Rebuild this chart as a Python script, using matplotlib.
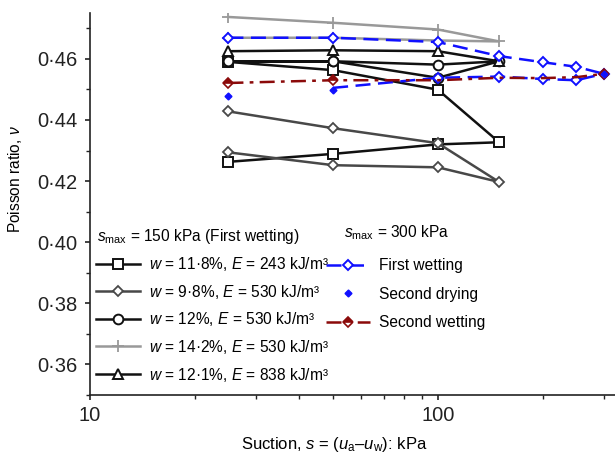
import matplotlib
matplotlib.use("Agg")
import matplotlib.pyplot as plt
from matplotlib.ticker import FixedLocator, LogLocator, NullFormatter, FuncFormatter, MultipleLocator

plt.rcParams['font.family'] = ['Liberation Sans', 'DejaVu Sans']
plt.rcParams['mathtext.fontset'] = 'custom'
plt.rcParams['mathtext.rm'] = 'Liberation Sans'
plt.rcParams['mathtext.it'] = 'Liberation Sans:italic'
plt.rcParams['mathtext.bf'] = 'Liberation Sans:bold'

# ---------------- data ----------------
# s_max = 150 kPa series: drying branch 25->150 then wetting branch 150->25
s_150 = [25, 50, 100, 150, 100, 50, 25]
v_w118_E243 = [0.4263, 0.4289, 0.4320, 0.4327, 0.4499, 0.4563, 0.4590]
v_w98_E530 = [0.4294, 0.4252, 0.4245, 0.4197, 0.4324, 0.4373, 0.4428]
v_w12_E530 = [0.4592, 0.4592, 0.4538, 0.4592, 0.4581, 0.4592, 0.4592]
v_w142_E530 = [0.4669, 0.4669, 0.4660, 0.4657, 0.4696, 0.4718, 0.4737]
s_w121 = [25, 50, 100, 150]
v_w121_E838 = [0.4625, 0.4628, 0.4625, 0.4592]

# s_max = 300 kPa series
s_300 = [25, 50, 100, 150, 200, 250, 300]
v_first_wetting = [0.4669, 0.4669, 0.4655, 0.4609, 0.4589, 0.4574, 0.4551]
v_second_wetting = [0.4521, 0.4530, 0.4530, 0.4538, 0.4537, 0.4540, 0.4551]
s_second_drying = [25, 50, 300]
v_second_drying = [0.4479, 0.4499, 0.4551]
s_lower_dashed = [50, 100, 150, 200, 250, 300]
v_lower_dashed = [0.4505, 0.4538, 0.4542, 0.4534, 0.4530, 0.4551]

labels_150 = [
    r"$\mathit{w}$ = 11·8%, $\mathit{E}$ = 243 kJ/m³",
    r"$\mathit{w}$ = 9·8%, $\mathit{E}$ = 530 kJ/m³",
    r"$\mathit{w}$ = 12%, $\mathit{E}$ = 530 kJ/m³",
    r"$\mathit{w}$ = 14·2%, $\mathit{E}$ = 530 kJ/m³",
    r"$\mathit{w}$ = 12·1%, $\mathit{E}$ = 838 kJ/m³",
]
labels_300 = ["First wetting", "Second drying", "Second wetting"]
x_ticks = [10, 100]
y_ticks = [0.36, 0.38, 0.40, 0.42, 0.44, 0.46]

# ---------------- figure ----------------
W, H = 615, 454
fig = plt.figure(figsize=(W / 100, H / 100), dpi=100)
ax = fig.add_axes([90 / W, 1 - 395 / H, 525 / W, (395 - 13) / H])

FS = 11.2
TFS = 14.5
BLUE = '#1010ff'
RED = '#8b0a0a'

sq = ax.plot(s_150, v_w118_E243, color='#111111', lw=1.8, marker='s', ms=6.5,
             mfc='white', mec='#111111', mew=1.4, label=labels_150[0], zorder=3)[0]
di = ax.plot(s_150, v_w98_E530, color='#484848', lw=1.8, marker='D', ms=5.2,
             mfc='white', mec='#484848', mew=1.3, label=labels_150[1], zorder=3)[0]
ci = ax.plot(s_150, v_w12_E530, color='#111111', lw=1.8, marker='o', ms=7,
             mfc='white', mec='#111111', mew=1.4, label=labels_150[2], zorder=3)[0]
pl = ax.plot(s_150, v_w142_E530, color='#999999', lw=1.8, marker='+', ms=8,
             mec='#999999', mew=1.3, label=labels_150[3], zorder=3)[0]
tr = ax.plot(s_w121, v_w121_E838, color='#111111', lw=1.8, marker='^', ms=7.5,
             mfc='white', mec='#111111', mew=1.4, label=labels_150[4], zorder=3)[0]

fw = ax.plot(s_300, v_first_wetting, color=BLUE, lw=1.8, ls=(0, (6, 3)), marker='D',
             ms=5.5, mfc='white', mec=BLUE, mew=1.4, label=labels_300[0], zorder=4)[0]
ax.plot(s_lower_dashed, v_lower_dashed, color=BLUE, lw=1.8, ls=(0, (6, 3)), marker='D',
        ms=5.5, mfc='white', mec=BLUE, mew=1.4, markevery=[1, 2, 3, 4], zorder=4)
sw = ax.plot(s_300, v_second_wetting, color=RED, lw=1.8, ls=(0, (6, 2.5, 1.5, 2.5)),
             marker='D', ms=5.5, fillstyle='top', mfc=RED, mfcalt='white', mec=RED,
             mew=1.2, markevery=[0, 1, 6], label=labels_300[2], zorder=4)[0]
sd = ax.plot(s_second_drying, v_second_drying, ls='none', marker='D', ms=3.5,
             color=BLUE, label=labels_300[1], zorder=5)[0]

ax.set_xscale('log')
ax.set_xlim(10, 323)
ax.set_ylim(0.35, 0.475)
ax.xaxis.set_major_locator(FixedLocator(x_ticks))
ax.xaxis.set_major_formatter(FuncFormatter(lambda v, p: f"{v:g}"))
ax.xaxis.set_minor_locator(LogLocator(base=10, subs=range(2, 10)))
ax.xaxis.set_minor_formatter(NullFormatter())
ax.yaxis.set_major_locator(FixedLocator(y_ticks))
ax.yaxis.set_minor_locator(MultipleLocator(0.01))
ax.yaxis.set_major_formatter(FuncFormatter(lambda v, p: f"{v:.2f}".replace('.', '·')))

for s in ('top', 'right'):
    ax.spines[s].set_visible(False)
for s in ('left', 'bottom'):
    ax.spines[s].set_linewidth(1.2)
    ax.spines[s].set_color('#222222')
ax.tick_params(which='major', direction='out', length=3.8, width=1.2, labelsize=TFS,
               colors='#222222')
ax.tick_params(axis='y', which='major', pad=5.5)
ax.tick_params(axis='x', which='major', pad=4)
ax.tick_params(which='minor', direction='out', length=3.2, width=1.0, colors='#222222')

ax.set_ylabel(r"Poisson ratio, $\mathit{ν}$", fontsize=FS)
ax.yaxis.set_label_coords(-0.125, 0.565)
ax.set_xlabel(r"Suction, $\mathit{s}$ = ($\mathit{u}_{\rm a}$–$\mathit{u}_{\rm w}$): kPa", fontsize=12)
ax.xaxis.set_label_coords(0.465, -0.104)

# legend titles
fig.text(97 / W, 1 - 237 / H, r"$\mathit{s}_{\rm max}$ = 150 kPa (First wetting)",
         fontsize=FS, va='center', ha='left')
fig.text(344 / W, 1 - 233 / H, r"$\mathit{s}_{\rm max}$ = 300 kPa",
         fontsize=FS, va='center', ha='left')

leg1 = ax.legend(handles=[sq, di, ci, pl, tr], loc='upper left',
                 bbox_to_anchor=(96 / W, 1 - 255 / H), bbox_transform=fig.transFigure,
                 frameon=False, fontsize=FS, handlelength=2.8, handletextpad=0.6,
                 labelspacing=0.62, borderpad=0, borderaxespad=0)
ax.add_artist(leg1)
leg2 = ax.legend(handles=[fw, sd, sw], loc='upper left',
                 bbox_to_anchor=(326 / W, 1 - 258 / H), bbox_transform=fig.transFigure,
                 frameon=False, fontsize=FS, handlelength=2.8, handletextpad=0.6,
                 labelspacing=0.88, borderpad=0, borderaxespad=0)

fig.savefig("out.png", dpi=100)
